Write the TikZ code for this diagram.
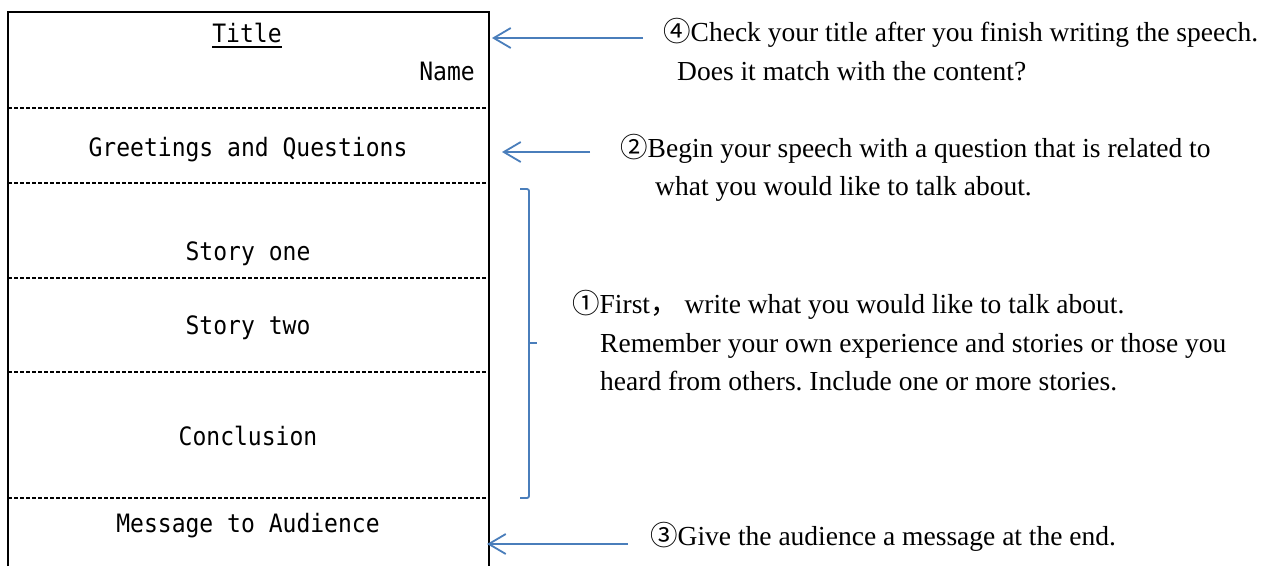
\documentclass[tikz,border=0pt]{standalone}
\usepackage{fontspec}
\usepackage{graphicx}
\setmainfont{Liberation Serif}
\setmonofont{DejaVu Sans Mono}
\newfontfamily\cjk{Noto Sans CJK JP}
\frenchspacing
\usetikzlibrary{arrows.meta}
\definecolor{arrowblue}{HTML}{4A7EBB}
\newcommand{\narrowtext}[1]{\scalebox{0.91}[1]{#1}}
\tikzset{
  frame/.style={line width=2pt, black},
  divider/.style={line width=1.1pt, black, dash pattern=on 4pt off 2pt},
  sectiontext/.style={font=\ttfamily\fontsize{25.3}{25}\selectfont, inner sep=0pt, anchor=base},
  note/.style={font=\fontsize{27.5}{39}\selectfont, inner sep=0pt, anchor=base west, align=left},
  pointer/.style={arrowblue, line width=1.8pt, -{Straight Barb[length=17pt,width=20pt,line width=1.8pt]}},
  brace/.style={arrowblue, line width=1.8pt, rounded corners=2pt}
}
\begin{document}
\begin{tikzpicture}[x=1pt,y=-1pt]
\useasboundingbox (0,0) rectangle (1271,566);
% frame
\draw[frame] (8,566) -- (8,12) -- (489,12) -- (489,566);
% dividers
\foreach \yy in {108,183,278,372,498} \draw[divider] (8,\yy) -- (489,\yy);
% section texts
\node[sectiontext] (title) at (247,42) {\narrowtext{Title}};
\draw[line width=1.6pt] ([yshift=-5pt]title.base west) -- ([yshift=-5pt]title.base east);
\node[sectiontext, anchor=base east] (name) at (475,80) {\narrowtext{Name}};
\node[sectiontext] (greet) at (248,156) {\narrowtext{Greetings and Questions}};
\node[sectiontext] (story1) at (248,260) {\narrowtext{Story one}};
\node[sectiontext] (story2) at (248,334) {\narrowtext{Story two}};
\node[sectiontext] (concl) at (248,445) {\narrowtext{Conclusion}};
\node[sectiontext] (msg) at (248,532) {\narrowtext{Message to Audience}};
% notes
\node[note] (n4a) at (663,41) {{\cjk ④}Check your title after you finish writing the speech.};
\node[note] (n4b) at (677,80) {Does it match with the content?};
\node[note] (n2a) at (620,157) {{\cjk ②}Begin your speech with a question that is related to};
\node[note] (n2b) at (655,195) {what you would like to talk about.};
\node[note] (n1a) at (572,313) {{\cjk ①}First{\cjk ，} write what you would like to talk about.};
\node[note] (n1b) at (600,352) {Remember your own experience and stories or those you};
\node[note] (n1c) at (600,390) {heard from others. Include one or more stories.};
\node[note] (n3) at (650,545) {{\cjk ③}Give the audience a message at the end.};
% arrows
\coordinate (s4) at (643,38); \coordinate (e4) at (492,38);
\coordinate (s2) at (590,152); \coordinate (e2) at (502,152);
\coordinate (s3) at (628,544); \coordinate (e3) at (487,544);
\draw[pointer] (s4) -- (e4);
\draw[pointer] (s2) -- (e2);
\draw[pointer] (s3) -- (e3);
% bracket
\coordinate (bt) at (520,189); \coordinate (bb) at (520,498);
\coordinate (bm) at (529,343); \coordinate (bmt) at (537,343);
\draw[brace] (bt) -- (529,189) -- (529,498) -- (bb);
\draw[brace] (bm) -- (bmt);
\end{tikzpicture}
\end{document}
